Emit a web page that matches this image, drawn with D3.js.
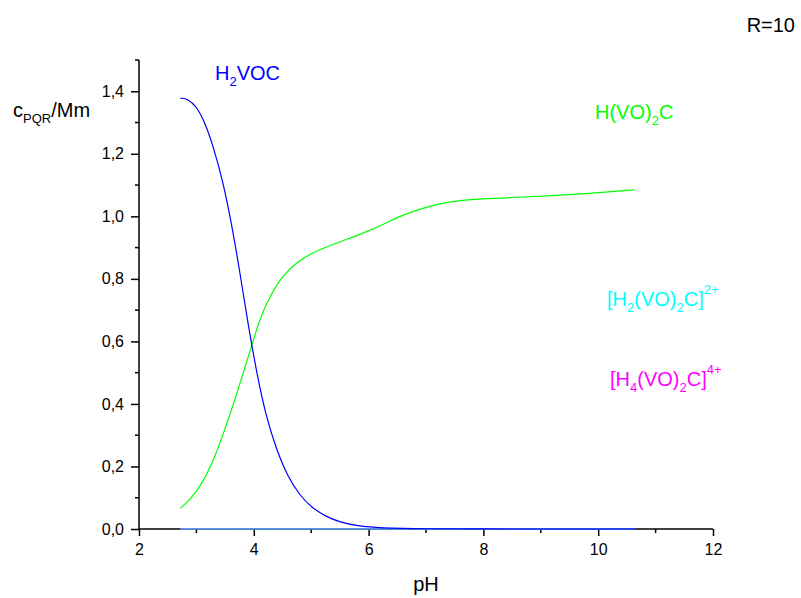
<!DOCTYPE html>
<html>
<head>
<meta charset="utf-8">
<script src="https://cdnjs.cloudflare.com/ajax/libs/d3/7.8.5/d3.min.js"></script>
<style>
  body { margin: 0; background: #fff; }
  svg text { font-family: "Liberation Sans", Arial, sans-serif; }
</style>
</head>
<body>
<div id="chart"></div>
<script>
// pH values and concentrations
const blueX = [2.72, 2.85, 3.0, 3.15, 3.3, 3.45, 3.6, 3.75, 3.9, 4.05, 4.2, 4.4, 4.6, 4.8, 5.0, 5.25, 5.5, 5.8, 6.2, 7.0, 8.0, 9.0, 10.0, 10.64];
const blueY = [1.378, 1.376, 1.352, 1.30, 1.22, 1.12, 0.99, 0.83, 0.655, 0.50, 0.37, 0.25, 0.165, 0.108, 0.07, 0.04, 0.022, 0.01, 0.003, 0.0005, 0, 0, 0, 0];

const greenX = [2.72, 2.9, 3.1, 3.3, 3.5, 3.7, 3.85, 3.95, 4.1, 4.28, 4.5, 4.75, 5.0, 5.3, 5.6, 5.97, 6.3, 6.6, 7.0, 7.4, 7.8, 8.5, 9.2, 9.9, 10.64];
const greenY = [0.066, 0.095, 0.145, 0.22, 0.32, 0.43, 0.52, 0.578, 0.67, 0.745, 0.81, 0.853, 0.882, 0.905, 0.925, 0.951, 0.978, 1.005, 1.03, 1.047, 1.055, 1.06, 1.066, 1.074, 1.085];

const cyanX = [2.72, 10.64];
const cyanY = [0, 0];
const magentaX = [2.72, 10.64];
const magentaY = [0.001, 0];

const xTicks = [2, 4, 6, 8, 10, 12];
const yTicks = [0, 0.2, 0.4, 0.6, 0.8, 1.0, 1.2, 1.4];

const width = 801, height = 598;

const svg = d3.select("#chart").append("svg")
    .attr("width", width)
    .attr("height", height);

const x = d3.scaleLinear().domain([2, 12]).range([139, 713]);
const y = d3.scaleLinear().domain([0, 1.5]).range([529, 60]);

// axes
const xAxis = d3.axisBottom(x)
    .tickValues(xTicks)
    .tickSize(7)
    .tickFormat(d3.format("d"));
const yAxis = d3.axisLeft(y)
    .tickValues(yTicks)
    .tickSize(8)
    .tickFormat(d => d3.format(".1f")(d).replace(".", ","));

const gx = svg.append("g").attr("transform", "translate(0,529)").call(xAxis);
const gy = svg.append("g").attr("transform", "translate(139,0)").call(yAxis);

[gx, gy].forEach(g => {
    g.select(".domain").attr("stroke", "#000").attr("stroke-width", 1.5);
    g.selectAll(".tick line").attr("stroke", "#000").attr("stroke-width", 1.5);
    g.selectAll(".tick text").attr("fill", "#000").style("font-size", "16px");
});
gx.select(".domain").attr("d", "M139,0H713");
gy.select(".domain").attr("d", "M0,529V60");
gx.selectAll(".tick text").attr("y", 11).attr("dy", "0.95em");
gy.selectAll(".tick text").attr("x", -15);

// minor ticks
svg.append("g").selectAll("line")
    .data(d3.range(3, 12, 2))
    .join("line")
    .attr("x1", d => x(d)).attr("x2", d => x(d))
    .attr("y1", 529).attr("y2", 533)
    .attr("stroke", "#000").attr("stroke-width", 1.5);

svg.append("g").selectAll("line")
    .data(d3.range(0.1, 1.55, 0.2))
    .join("line")
    .attr("x1", 135).attr("x2", 139)
    .attr("y1", d => y(d)).attr("y2", d => y(d))
    .attr("stroke", "#000").attr("stroke-width", 1.5);

// lines
const line = d3.line()
    .x(d => x(d[0]))
    .y(d => y(d[1]))
    .curve(d3.curveBasis);

function drawSeries(xs, ys, color) {
    svg.append("path")
        .datum(xs.map((v, i) => [v, ys[i]]))
        .attr("d", line)
        .attr("fill", "none")
        .attr("stroke", color)
        .attr("stroke-width", 1.2);
}

drawSeries(magentaX, magentaY, "#ff00ff");
drawSeries(cyanX, cyanY, "#00ffff");
drawSeries(greenX, greenY, "#00ff00");
drawSeries(blueX, blueY, "#0000ff");

// labels with sub/superscripts
function richLabel(parts, xPos, yPos, color) {
    const t = svg.append("text")
        .attr("x", xPos).attr("y", yPos)
        .attr("fill", color)
        .style("font-size", "20px");
    parts.forEach(p => {
        const s = t.append("tspan").text(p[0]);
        if (p[1] === "sub") {
            s.style("font-size", "13px").attr("dy", 6);
        } else if (p[1] === "sup") {
            s.style("font-size", "13px").attr("dy", -12);
        } else if (p[1] === "back") {
            s.attr("dy", -6);
        }
    });
    return t;
}

richLabel([["H"], ["2", "sub"], ["VOC", "back"]], 215, 80, "#0000ff");
richLabel([["H(VO)"], ["2", "sub"], ["C", "back"]], 595, 119, "#00ff00");
richLabel([["[H"], ["2", "sub"], ["(VO)", "back"], ["2", "sub"], ["C]", "back"], ["2+", "sup"]], 607, 306, "#00ffff");
richLabel([["[H"], ["4", "sub"], ["(VO)", "back"], ["2", "sub"], ["C]", "back"], ["4+", "sup"]], 610, 386, "#ff00ff");

// axis titles
richLabel([["c"], ["PQR", "sub"], ["/Mm", "back"]], 13, 117, "#000");
svg.append("text")
    .attr("x", x(7)).attr("y", 591)
    .attr("text-anchor", "middle")
    .style("font-size", "20px")
    .text("pH");

svg.append("text")
    .attr("x", 795).attr("y", 32)
    .attr("text-anchor", "end")
    .style("font-size", "20px")
    .text("R=10");
</script>
</body>
</html>
